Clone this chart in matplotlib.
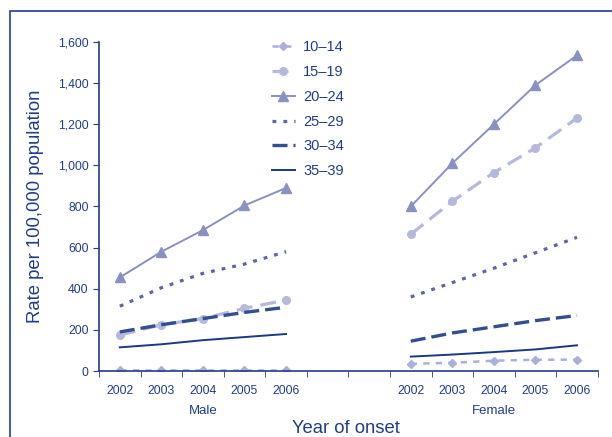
import matplotlib
matplotlib.use("Agg")
import matplotlib.pyplot as plt
from matplotlib.patches import Rectangle
from matplotlib.ticker import FuncFormatter

plt.rcParams['font.family'] = ['Liberation Sans', 'DejaVu Sans']

years = ['2002', '2003', '2004', '2005', '2006']
groups = ['Male', 'Female']
age_groups = ['10\u201314', '15\u201319', '20\u201324', '25\u201329', '30\u201334', '35\u201339']

male = {
    '10\u201314': [5, 5, 5, 5, 5],
    '15\u201319': [175, 225, 255, 305, 345],
    '20\u201324': [455, 580, 685, 805, 890],
    '25\u201329': [315, 405, 475, 520, 580],
    '30\u201334': [190, 225, 255, 285, 310],
    '35\u201339': [115, 130, 150, 165, 180],
}
female = {
    '10\u201314': [35, 40, 50, 55, 55],
    '15\u201319': [665, 825, 965, 1085, 1230],
    '20\u201324': [800, 1010, 1200, 1390, 1535],
    '25\u201329': [360, 430, 500, 575, 650],
    '30\u201334': [145, 185, 215, 245, 270],
    '35\u201339': [70, 80, 92, 105, 125],
}

navy = '#1f3d8c'
styles = {
    '10\u201314': dict(color='#aab0d8', lw=1.8, dashes=(2.5, 2.5), marker='D', ms=4.5),
    '15\u201319': dict(color='#b5b9dd', lw=2.3, dashes=(5, 2.5), marker='o', ms=5.5),
    '20\u201324': dict(color='#8890c4', lw=1.4, marker='^', ms=6.5),
    '25\u201329': dict(color='#5a66a8', lw=2.3, dashes=(1.2, 2.2)),
    '30\u201334': dict(color='#344e92', lw=2.4, dashes=(4.5, 1.8)),
    '35\u201339': dict(color='#1a3886', lw=1.4),
}

male_x = list(range(0, 5))
female_x = list(range(7, 12))

fig = plt.figure(figsize=(6.12, 4.37), dpi=100)
ax = fig.add_axes([0.1618, 0.151, 0.815, 0.753])

for age in age_groups:
    st = styles[age]
    ax.plot(male_x, male[age], label=age, **st)
    ax.plot(female_x, female[age], **st)

ax.set_ylim(0, 1600)
ax.set_xlim(-0.5, 11.5)
ax.set_yticks(range(0, 1601, 200))
ax.yaxis.set_major_formatter(FuncFormatter(lambda v, p: f'{int(v):,}'))

ax.set_xticks(male_x + female_x)
ax.set_xticklabels(years + years)
ax.set_xticks([i + 0.5 for i in range(-1, 12)], minor=True)
ax.tick_params(axis='x', which='major', length=0, pad=10)
ax.tick_params(axis='x', which='minor', length=4, direction='out', color=navy)
ax.tick_params(axis='y', length=4, color=navy)
ax.tick_params(labelsize=8.8, labelcolor=navy)

for s in ['top', 'right']:
    ax.spines[s].set_visible(False)
for s in ['left', 'bottom']:
    ax.spines[s].set_color(navy)
    ax.spines[s].set_linewidth(1.2)

ax.text(2, -0.12, groups[0], transform=ax.get_xaxis_transform(), ha='center', va='center',
        fontsize=9.5, color=navy)
ax.text(9, -0.12, groups[1], transform=ax.get_xaxis_transform(), ha='center', va='center',
        fontsize=9.5, color=navy)
ax.set_ylabel('Rate per 100,000 population', fontsize=13.3, color=navy, labelpad=10)
fig.text(0.565, 0.02, 'Year of onset', ha='center', va='center', fontsize=13.3, color=navy)

leg = ax.legend(loc='upper left', bbox_to_anchor=(0.32, 1.045), frameon=False, fontsize=10.5,
                labelspacing=0.74, handlelength=1.6, handletextpad=0.55, numpoints=1)
for t in leg.get_texts():
    t.set_color(navy)

fig.patches.append(Rectangle((10 / 612, -0.1), 1.0, (437 - 11) / 437 + 0.1,
                             transform=fig.transFigure, fill=False, edgecolor=navy, lw=1.2))

fig.savefig('out.png', dpi=100)
